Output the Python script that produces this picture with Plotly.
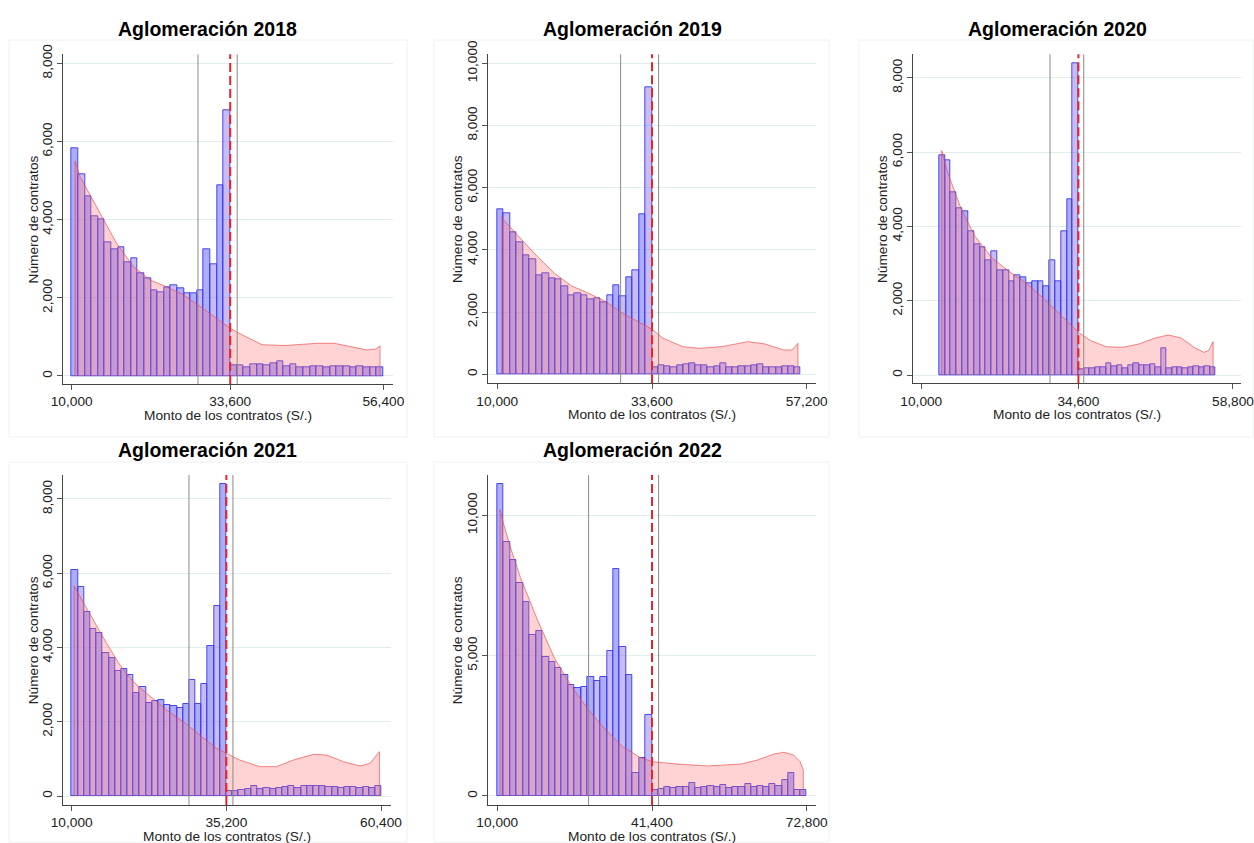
import plotly.graph_objects as go

W, H = 1254, 843

# ---------------- data ----------------
years = ["2018", "2019", "2020", "2021", "2022"]
thresholds = [33600, 33600, 34600, 35200, 41400]
x_max_ticks = [56400, 57200, 58800, 60400, 72800]
x_min_tick = 10000
bins_start = [10000, 10000, 12800, 10000, 10000]
bins_end = [56400, 56300, 56100, 60500, 72800]
window_low = [28800, 28810, 30150, 29110, 28530]
window_high = [34640, 34610, 35430, 36275, 42740]

below_2018 = [5820, 5150, 4600, 4080, 4020, 3430, 3230, 3300, 2900, 3000, 2620, 2500,
              2200, 2150, 2280, 2330, 2240, 2120, 2120, 2200, 3230, 2870, 4870, 6800]
above_2018 = [270, 270, 230, 300, 300, 280, 320, 370, 250, 300, 220, 220, 260, 240, 210,
              240, 240, 260, 210, 250, 220, 220, 220]

below_2019 = [5300, 5180, 4560, 4230, 3840, 3700, 3190, 3250, 3090, 3050, 2820, 2540,
              2600, 2530, 2410, 2440, 2310, 2550, 2850, 2510, 3120, 3330, 5140, 9230]
above_2019 = [220, 280, 250, 240, 280, 320, 360, 290, 280, 240, 250, 360, 220, 220, 260,
              270, 280, 330, 230, 240, 230, 260, 250, 240]

below_2020 = [5910, 5780, 4910, 4480, 4410, 3860, 3530, 3450, 3090, 3320, 2830, 2830,
              2510, 2680, 2620, 2460, 2510, 2510, 2400, 3080, 2530, 3880, 4740, 8380]
above_2020 = [160, 180, 180, 220, 220, 310, 240, 250, 180, 270, 310, 270, 250, 290, 220,
              710, 180, 220, 220, 180, 210, 240, 210, 240, 220]

below_2021 = [6090, 5640, 4950, 4490, 4380, 3840, 3730, 3370, 3430, 3270, 2780, 2930,
              2510, 2550, 2580, 2450, 2420, 2380, 2470, 3120, 2470, 3010, 4040, 5130, 8400]
above_2021 = [140, 140, 170, 190, 280, 200, 220, 200, 210, 250, 270, 210, 260, 260, 260,
              280, 240, 250, 210, 230, 240, 220, 250, 220, 260]

below_2022 = [11100, 9040, 8410, 7580, 6900, 5740, 5880, 4960, 4790, 4570, 4300, 3960,
              3840, 3900, 4240, 4100, 4240, 5150, 8080, 5300, 4300, 810, 1370, 2890]
above_2022 = [210, 240, 330, 270, 330, 330, 460, 300, 330, 360, 330, 400, 300, 330, 330,
              420, 330, 360, 330, 420, 370, 570, 810, 210, 210]

cf_x_2018 = [10500, 11240, 14200, 16700, 19180, 21660, 24140, 26620, 29100, 31590, 33600,
             35400, 38340, 41750, 46640, 49080, 51520, 53960, 55300, 55910]
cf_y_2018 = [5500, 5100, 4160, 3390, 2800, 2456, 2280, 2080, 1780, 1460, 1220,
             1050, 800, 780, 836, 836, 750, 665, 690, 770]

cf_x_2019 = [10700, 10940, 13530, 16130, 18730, 21330, 23930, 26530, 29130, 31730, 33600,
             35290, 38280, 40770, 44250, 48240, 50730, 53720, 54970, 55860]
cf_y_2019 = [5070, 4962, 4373, 3783, 3248, 2840, 2604, 2336, 1961, 1650, 1450,
             1158, 890, 836, 890, 1050, 980, 782, 782, 997]

cf_x_2020 = [13200, 14170, 16310, 18450, 21120, 23800, 26470, 29140, 31820, 34600,
             36450, 38970, 41520, 44070, 46620, 48660, 50690, 52730, 54260, 54990, 55690]
cf_y_2020 = [6036, 5426, 4439, 3722, 3139, 2780, 2466, 2063, 1614, 1150,
             930, 760, 744, 834, 996, 1076, 996, 744, 610, 655, 900]

cf_x_2021 = [10380, 11360, 13520, 15690, 17860, 20030, 22740, 25450, 28170, 30870, 33580,
             35200, 37380, 40650, 43370, 46100, 49360, 51540, 54260, 56980, 58620, 60140]
cf_y_2021 = [5664, 5368, 4740, 4111, 3528, 3079, 2693, 2316, 2002, 1643, 1284,
             1149, 969, 790, 790, 969, 1122, 1104, 925, 808, 880, 1194]

cf_x_2022 = [10560, 11250, 12630, 14700, 18160, 21620, 25080, 28530, 31990, 35450, 38910,
             41400, 46290, 52920, 59540, 62860, 66160, 68150, 70130, 71460, 72100]
cf_y_2022 = [10200, 9700, 8880, 7780, 6270, 4905, 3895, 3064, 2352, 1758, 1378,
             1223, 1140, 1069, 1140, 1283, 1496, 1556, 1461, 1223, 926]

below = [below_2018, below_2019, below_2020, below_2021, below_2022]
above = [above_2018, above_2019, above_2020, above_2021, above_2022]
cf_x = [cf_x_2018, cf_x_2019, cf_x_2020, cf_x_2021, cf_x_2022]
cf_y = [cf_y_2018, cf_y_2019, cf_y_2020, cf_y_2021, cf_y_2022]
y_ticks = [[0, 2000, 4000, 6000, 8000], [0, 2000, 4000, 6000, 8000, 10000],
           [0, 2000, 4000, 6000, 8000], [0, 2000, 4000, 6000, 8000], [0, 5000, 10000]]

# ---------------- layout geometry (pixels) ----------------
# plot area: left, right, top, bottom
plot_px = [(63.3, 392.7, 54.3, 384.0), (488.3, 816.0, 54.3, 383.3),
           (913.3, 1241.3, 54.3, 383.3), (63.3, 390.7, 475.0, 805.0),
           (488.3, 816.0, 475.0, 805.0)]
x_ranges = [[8749, 57797], [8627, 58620], [8747, 60102], [8631, 61980], [8173, 74684]]
y_ranges = [[-205, 8230], [-289, 10289], [-223, 8630], [-242, 8646], [-321, 11436]]
frames_px = [(9, 407, 40, 437), (434, 829, 40, 437), (859, 1253, 40, 437),
             (9, 407, 462, 842), (434, 829, 462, 842)]
title_px = [(207, 29), (632, 29), (1057, 29), (207, 450), (632, 450)]
ytitle_x = [33.3, 457.3, 882.3, 33.3, 457.3]

FONT = "Arial, Liberation Sans, Helvetica, sans-serif"
fig = go.Figure()
shapes = []
annotations = []


def px2x(p):
    return p / W


def px2y(p):
    return 1 - p / H


for i in range(5):
    ax = "" if i == 0 else str(i + 1)
    xref, yref = "x" + ax, "y" + ax
    thr = thresholds[i]
    nL, nR = len(below[i]), len(above[i])
    wl = (thr - bins_start[i]) / nL
    wr = (bins_end[i] - thr) / nR
    centers = [bins_start[i] + wl * (k + 0.5) for k in range(nL)] + \
              [thr + wr * (k + 0.5) for k in range(nR)]
    widths = [wl] * nL + [wr] * nR
    counts = below[i] + above[i]
    colors = ["rgba(150,150,255,0.78)" if k % 2 == 0 else "rgba(125,95,230,0.42)"
              for k in range(len(counts))]

    # counterfactual density (shaded area)
    fig.add_trace(go.Scatter(
        x=[cf_x[i][0]] + cf_x[i] + [cf_x[i][-1]],
        y=[0] + cf_y[i] + [0],
        mode="lines", fill="toself",
        fillcolor="rgba(255,110,110,0.30)",
        line=dict(color="rgba(235,70,70,0.65)", width=1),
        xaxis=xref, yaxis=yref, showlegend=False, hoverinfo="skip"))

    # histogram
    fig.add_trace(go.Bar(
        x=centers, y=counts, width=widths,
        marker=dict(color=colors, line=dict(color="rgba(45,45,235,0.85)", width=1)),
        xaxis=xref, yaxis=yref, showlegend=False))

    l, r, t, b = plot_px[i]
    fig.layout["xaxis" + ax] = dict(
        domain=[px2x(l), px2x(r)], range=x_ranges[i], anchor=yref, automargin=False,
        tickvals=[x_min_tick, thr, x_max_ticks[i]],
        ticktext=[f"{v:,}" for v in [x_min_tick, thr, x_max_ticks[i]]],
        ticklabeloverflow="allow",
        ticks="outside", ticklen=5, tickcolor="#555", showgrid=False, zeroline=False,
        showline=True, linecolor="#444", linewidth=1,
        tickfont=dict(family=FONT, size=13.7, color="#222"), fixedrange=True)
    fig.layout["yaxis" + ax] = dict(
        domain=[px2y(b), px2y(t)], range=y_ranges[i], anchor=xref, automargin=False,
        tickvals=y_ticks[i], ticktext=[f"{v:,}" for v in y_ticks[i]],
        ticklabeloverflow="allow",
        tickangle=-90, ticks="outside", ticklen=5, tickcolor="#555",
        showgrid=True, gridcolor="#e2eded", gridwidth=1, zeroline=False,
        showline=True, linecolor="#444", linewidth=1,
        tickfont=dict(family=FONT, size=13.7, color="#222"), fixedrange=True)

    # window lines and threshold
    for xv in (window_low[i], window_high[i]):
        shapes.append(dict(type="line", xref=xref, yref=yref + " domain",
                           x0=xv, x1=xv, y0=0, y1=1,
                           line=dict(color="#8a8a8a", width=1)))
    shapes.append(dict(type="line", xref=xref, yref=yref + " domain",
                       x0=thr, x1=thr, y0=0, y1=1,
                       line=dict(color="#e8232b", width=2, dash="9px,4px")))

    # panel frame
    fl, fr, ft, fb = frames_px[i]
    shapes.append(dict(type="rect", xref="paper", yref="paper", layer="below",
                       x0=px2x(fl), x1=px2x(fr), y0=px2y(fb), y1=px2y(ft),
                       line=dict(color="#eef1f1", width=1), fillcolor="rgba(0,0,0,0)"))

    # titles
    tx, ty = title_px[i]
    annotations.append(dict(text="<b>Aglomeración " + years[i] + "</b>", x=px2x(tx), y=px2y(ty),
                            xref="paper", yref="paper", showarrow=False,
                            xanchor="center", yanchor="middle",
                            font=dict(family=FONT, size=19.5, color="#000")))
    annotations.append(dict(text="Monto de los contratos (S/.)", x=px2x((l + r) / 2),
                            y=px2y(b + 31), xref="paper", yref="paper", showarrow=False,
                            xanchor="center", yanchor="middle",
                            font=dict(family=FONT, size=13.7, color="#222")))
    annotations.append(dict(text="Número de contratos", x=px2x(ytitle_x[i]),
                            y=px2y((t + b) / 2), xref="paper", yref="paper",
                            showarrow=False, textangle=-90,
                            xanchor="center", yanchor="middle",
                            font=dict(family=FONT, size=13.7, color="#222")))

fig.update_layout(width=W, height=H, margin=dict(l=0, r=0, t=0, b=0, autoexpand=False),
                  paper_bgcolor="white", plot_bgcolor="white",
                  barmode="overlay", bargap=0, shapes=shapes, annotations=annotations,
                  showlegend=False)

fig.write_html("out.html")
